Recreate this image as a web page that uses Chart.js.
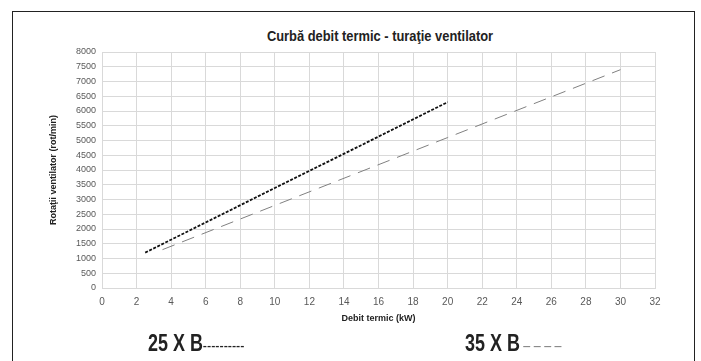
<!DOCTYPE html>
<html>
<head>
<meta charset="utf-8">
<script src="https://cdn.jsdelivr.net/npm/chart.js@4"></script>
<style>
  html, body { margin: 0; padding: 0; background: #fff; }
  #wrap { position: relative; width: 701px; height: 361px; overflow: hidden; }
  #frame { position: absolute; left: 12px; top: 11px; width: 681px; height: 360px; border: 1.5px solid #222; }
  #titlu { position: absolute; left: 0; width: 760px; top: 28px; text-align: center;
    font: bold 14px "Liberation Sans", Arial, sans-serif; color: #222; transform: scaleX(0.92); transform-origin: 380px 0; }
  .leg { position: absolute; top: 330px; font: bold 23px "Liberation Sans", sans-serif; color: #222; white-space: nowrap;
    transform: scaleX(0.78); transform-origin: 0 0; }
  .leg span { font-weight: normal; font-size: 16px; }
  canvas { position: absolute; left: 0; top: 0; }
</style>
</head>
<body>
<div id="wrap">
  <div id="frame"></div>
  <div id="titlu">Curbă debit termic - turaţie ventilator</div>
  <canvas id="grafic" width="701" height="361"></canvas>
  <div class="leg" style="left:148px">25 X B<span style="color:#222">----------</span></div>
  <div class="leg" style="left:465px">35 X B<span style="color:#888"> – – – –</span></div>
</div>
<script>
// ===== DATE =====
const debit25 = [2.5, 5, 10, 15, 20];
const turatie25 = [1200, 1930, 3390, 4840, 6300];
const debit35 = [3.5, 10, 20, 30];
const turatie35 = [1300, 2800, 5100, 7400];
const xTicks = [0, 32, 2];      // min, max, pas
const yTicks = [0, 8000, 500];

const FONT = '"Liberation Sans", Arial, sans-serif';

function puncte(xs, ys) {
  return xs.map((x, i) => ({ x: x, y: ys[i] }));
}

// ===== GRAFIC =====
const ctx = document.getElementById('grafic').getContext('2d');
new Chart(ctx, {
  type: 'line',
  data: {
    datasets: [
      {
        label: '25 X B',
        data: puncte(debit25, turatie25),
        borderColor: '#111',
        borderWidth: 1.8,
        borderDash: [3, 1.5],
        pointRadius: 0,
        tension: 0,
      },
      {
        label: '35 X B',
        data: puncte(debit35, turatie35),
        borderColor: '#808080',
        borderWidth: 1,
        borderDash: [13, 8],
        pointRadius: 0,
        tension: 0,
      }
    ]
  },
  options: {
    responsive: false,
    animation: false,
    layout: { padding: { left: 44, right: 46, top: 52, bottom: 33 } },
    plugins: { legend: { display: false }, title: { display: false }, tooltip: { enabled: false } },
    scales: {
      x: {
        type: 'linear',
        min: xTicks[0], max: xTicks[1],
        ticks: { stepSize: xTicks[2], autoSkip: false, color: '#595959', font: { family: FONT, size: 10 }, padding: 8,
          callback: v => String(v) },
        grid: { color: '#d9d9d9', drawTicks: false },
        border: { color: '#d9d9d9' },
        title: { display: true, text: 'Debit termic (kW)', color: '#222', font: { family: FONT, size: 9, weight: 'bold' } },
        afterFit: s => { s.height = 40; }
      },
      y: {
        min: yTicks[0], max: yTicks[1],
        ticks: { stepSize: yTicks[2], autoSkip: false, color: '#595959', font: { family: FONT, size: 9 }, padding: 6,
          callback: v => String(v) },
        grid: { color: '#d9d9d9', drawTicks: false },
        border: { color: '#d9d9d9' },
        title: { display: true, text: 'Rotaţii ventilator (rot/min)', color: '#222', font: { family: FONT, size: 9, weight: 'bold' } },
        afterFit: s => { s.width = 58; }
      }
    }
  }
});
</script>
</body>
</html>
